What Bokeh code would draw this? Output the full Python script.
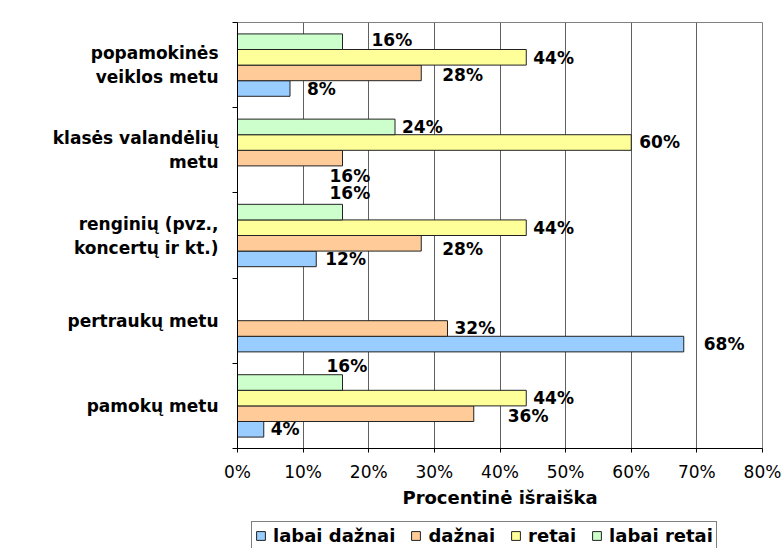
from bokeh.plotting import figure
from bokeh.layouts import column
from bokeh.models import (ColumnDataSource, Range1d, LinearAxis,
                          FixedTicker, PrintfTickFormatter, Legend, LegendItem)
from bokeh.transform import dodge
from bokeh.core.properties import value
from bokeh.embed import file_html
from bokeh.resources import INLINE

# ---- data ----
categories = ["pamokų metu", "pertraukų metu", "renginių (pvz.,\nkoncertų ir kt.)",
              "klasės valandėlių\nmetu", "popamokinės\nveiklos metu"]
series_names = ["labai dažnai", "dažnai", "retai", "labai retai"]
labai_daznai = [4, 68, 12, 0, 8]
daznai = [36, 32, 28, 16, 28]
retai = [44, 0, 44, 60, 44]
labai_retai = [16, 0, 16, 24, 16]
x_ticks = [0, 10, 20, 30, 40, 50, 60, 70, 80]
x_title = "Procentinė išraiška"

# ---- styles ----
colors = ["#99CCFF", "#FFCC99", "#FFFF99", "#CCFFCC"]
bar_offsets = [-0.2745, -0.0915, 0.0915, 0.2745]
bar_height = 0.183
# label pixel nudges (dx, dy screen-down) per series, per category
label_dx = [[7, 20, 9, 0, 17], [34, 7, 21, -13, 21], [7, 0, 7, 8, 7], [-16, 0, -13, 7, 29]]
label_dy = [[0, 0, 0, 0, 1], [2, 0, 6, 18, 2], [0, 0, 0, -1, 1], [-17, 0, -19, 0, -2]]
FONT = "DejaVu Sans"

series_values = [labai_daznai, daznai, retai, labai_retai]
n_cat = len(categories)
cat_pos = [k + 0.5 for k in range(n_cat)]          # band centres on the category scale
band_edges = [k for k in range(n_cat + 1)]          # band boundaries

p = figure(width=783, height=510, output_backend="svg", toolbar_location=None,
           x_range=Range1d(0, 80), y_range=Range1d(0, n_cat),
           y_axis_location=None, min_border_left=237, min_border_right=21,
           min_border_top=22, min_border_bottom=62)
p.outline_line_color = "#808080"
p.outline_line_width = 1
p.background_fill_color = "white"
p.border_fill_color = "white"

# x axis
ticker = FixedTicker(ticks=x_ticks)
xa = p.xaxis[0]
xa.ticker = ticker
xa.formatter = PrintfTickFormatter(format="%d%%")
xa.axis_line_color = "black"
xa.major_tick_line_color = "black"
xa.major_tick_in = 0
xa.major_tick_out = 4
xa.minor_tick_line_color = None
xa.major_label_text_font = FONT
xa.major_label_text_font_size = "17px"
xa.major_label_text_color = "black"
xa.major_label_standoff = 9
xa.axis_label = x_title
xa.axis_label_text_font = FONT
xa.axis_label_text_font_style = "bold"
xa.axis_label_text_font_size = "18px"
xa.axis_label_text_color = "black"
xa.axis_label_standoff = 2

p.xgrid.ticker = ticker
p.xgrid.grid_line_color = "#606060"
p.ygrid.visible = False

# left axis: category labels at band centres, tick marks at band boundaries
cat_axis = LinearAxis(ticker=FixedTicker(ticks=cat_pos, minor_ticks=band_edges),
                      major_label_overrides={pos: c for pos, c in zip(cat_pos, categories)},
                      axis_line_color="black", major_tick_line_color=None,
                      major_tick_in=0, major_tick_out=0,
                      minor_tick_line_color="black", minor_tick_in=0, minor_tick_out=5,
                      major_label_standoff=14,
                      major_label_text_font=FONT, major_label_text_font_style="bold",
                      major_label_text_font_size="17px", major_label_text_color="black")
p.add_layout(cat_axis, "left")

for i, (name, vals) in enumerate(zip(series_names, series_values)):
    src = ColumnDataSource(dict(pos=cat_pos, cat=categories, val=vals))
    p.hbar(y=dodge("pos", bar_offsets[i]), left=0, right="val",
           height=bar_height, source=src, fill_color=colors[i],
           line_color="#222222", line_width=1)
    keep = [j for j, v in enumerate(vals) if v > 0]
    lsrc = ColumnDataSource(dict(
        pos=[cat_pos[j] for j in keep],
        val=[vals[j] for j in keep],
        txt=[f"{vals[j]}%" for j in keep],
        dx=[label_dx[i][j] for j in keep],
        dy=[label_dy[i][j] for j in keep],
    ))
    p.text(x="val", y=dodge("pos", bar_offsets[i]), text="txt",
           x_offset="dx", y_offset="dy", source=lsrc,
           text_font=value(FONT), text_font_style="bold", text_font_size="17px",
           text_color="black", text_align="left", text_baseline="middle")

# legend strip under the chart (same series colours; its bars lie outside its visible range)
pl = figure(width=783, height=38, output_backend="svg", toolbar_location=None,
            x_range=Range1d(0, 80), y_range=Range1d(0, 1),
            x_axis_location=None, y_axis_location=None, min_border=0)
pl.outline_line_color = None
pl.background_fill_color = "white"
pl.border_fill_color = "white"
pl.xgrid.visible = False
pl.ygrid.visible = False
leg_renderers = []
for i, (name, vals) in enumerate(zip(series_names, series_values)):
    lsrc2 = ColumnDataSource(dict(pos=[-5.0], val=[vals[0]]))
    r = pl.hbar(y="pos", left=0, right="val", height=bar_height, source=lsrc2,
                fill_color=colors[i], line_color="#222222", line_width=1)
    leg_renderers.append(r)
legend = Legend(items=[LegendItem(label=n, renderers=[r]) for n, r in zip(series_names, leg_renderers)],
                orientation="horizontal", location=(14, -2),
                label_text_font=FONT, label_text_font_style="bold", label_text_font_size="18px",
                label_text_color="black", glyph_width=11, glyph_height=11, label_standoff=7,
                spacing=15, padding=3, margin=0, border_line_color="black", border_line_width=1,
                background_fill_color="white", background_fill_alpha=1.0)
pl.add_layout(legend, "center")

layout = column(p, pl, spacing=0)
open("out.html", "w").write(file_html(layout, INLINE))
